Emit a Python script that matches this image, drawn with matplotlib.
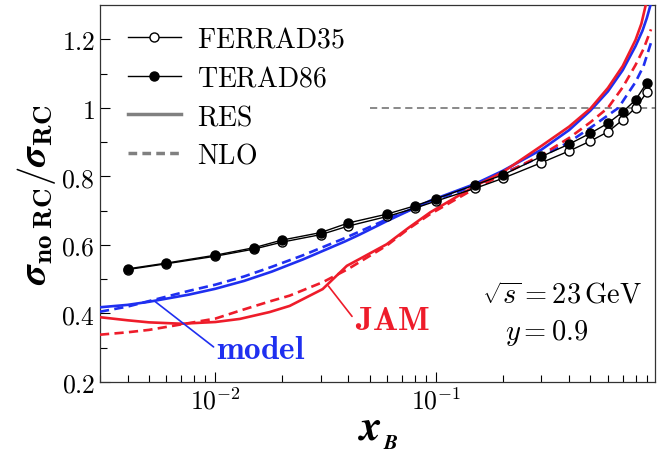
import numpy as np
import matplotlib
matplotlib.use("Agg")
import matplotlib.pyplot as plt
from matplotlib.ticker import FixedLocator, FixedFormatter, LogLocator, NullFormatter

plt.rcParams['mathtext.fontset'] = 'cm'
plt.rcParams['font.family'] = 'serif'
plt.rcParams['font.serif'] = ['DejaVu Serif']

# data points (TERAD86 filled, FERRAD35 open)
x_terad = [0.004, 0.006, 0.01, 0.015, 0.02, 0.03, 0.04, 0.06, 0.08, 0.1, 0.15,
           0.2, 0.3, 0.4, 0.5, 0.6, 0.7, 0.8, 0.9]
y_terad = [0.530, 0.547, 0.570, 0.592, 0.614, 0.636, 0.664, 0.690, 0.714, 0.735,
           0.775, 0.804, 0.858, 0.894, 0.926, 0.955, 0.988, 1.023, 1.073]
x_ferrad = x_terad
y_ferrad = [0.528, 0.545, 0.567, 0.588, 0.608, 0.630, 0.655, 0.683, 0.707, 0.728,
            0.765, 0.794, 0.840, 0.874, 0.903, 0.930, 0.965, 1.000, 1.045]

# model (blue) curves
x_model = [0.003, 0.004, 0.005, 0.0076, 0.01, 0.0135, 0.018, 0.025, 0.0386, 0.045,
           0.06, 0.094, 0.15, 0.2, 0.3, 0.4, 0.5, 0.6, 0.7, 0.8, 0.86, 0.9, 0.935]
y_model_res = [0.418, 0.425, 0.434, 0.455, 0.472, 0.495, 0.522, 0.558, 0.610, 0.630,
               0.670, 0.729, 0.778, 0.816, 0.878, 0.935, 0.992, 1.048, 1.110, 1.180,
               1.225, 1.262, 1.300]
x_model_nlo = [0.003, 0.004, 0.005, 0.0076, 0.01, 0.0135, 0.018, 0.025, 0.0386, 0.06,
               0.094, 0.15, 0.2, 0.3, 0.4, 0.5, 0.67, 0.736, 0.8, 0.87, 0.94]
y_model_nlo = [0.405, 0.420, 0.436, 0.466, 0.484, 0.508, 0.536, 0.570, 0.620, 0.675,
               0.727, 0.772, 0.808, 0.858, 0.900, 0.942, 1.000, 1.040, 1.075, 1.122,
               1.190]

# JAM (red) curves
x_jam = [0.003, 0.004, 0.005, 0.007, 0.01, 0.0129, 0.0176, 0.0217, 0.0306, 0.0394,
         0.045, 0.0597, 0.075, 0.094, 0.15, 0.2, 0.3, 0.4, 0.5, 0.6, 0.7, 0.8, 0.85,
         0.89]
y_jam_res = [0.389, 0.380, 0.374, 0.370, 0.375, 0.384, 0.404, 0.422, 0.471, 0.539,
             0.559, 0.602, 0.650, 0.695, 0.772, 0.812, 0.889, 0.945, 0.998, 1.058,
             1.122, 1.198, 1.245, 1.300]
x_jam_nlo = [0.003, 0.004, 0.005, 0.007, 0.01, 0.0129, 0.0176, 0.0217, 0.0306, 0.04,
             0.0597, 0.075, 0.094, 0.15, 0.2, 0.3, 0.4, 0.5, 0.6, 0.7, 0.8, 0.87,
             0.94]
y_jam_nlo = [0.338, 0.345, 0.352, 0.368, 0.385, 0.408, 0.435, 0.452, 0.491, 0.530,
             0.598, 0.647, 0.690, 0.765, 0.805, 0.862, 0.912, 0.958, 1.000, 1.060,
             1.125, 1.172, 1.229]

blue = '#1f2ff0'
red = '#ee1c2a'

fig = plt.figure(figsize=(6.6, 4.52), dpi=100)
ax = fig.add_axes([0.1515, 0.1527, 0.8409, 0.834])

ax.plot(x_model, y_model_res, color=blue, lw=1.9, zorder=3)
ax.plot(x_model_nlo, y_model_nlo, color=blue, lw=1.9, ls=(0, (3.5, 2)), zorder=3)
ax.plot(x_jam, y_jam_res, color=red, lw=1.9, zorder=3)
ax.plot(x_jam_nlo, y_jam_nlo, color=red, lw=1.9, ls=(0, (3.5, 2)), zorder=3)

ax.plot(x_ferrad, y_ferrad, color='k', lw=1, marker='o', ms=6.5, mfc='white',
        mec='k', mew=1, zorder=4)
ax.plot(x_terad, y_terad, color='k', lw=1, marker='o', ms=6.5, mfc='k',
        mec='k', zorder=5)

ax.hlines(1.0, 0.05, 0.98, colors='gray', lw=1.3, ls=(0, (4, 2.5)), zorder=1)

# legend handles
h1, = ax.plot([], [], color='k', lw=1, marker='o', ms=6.5, mfc='white', mec='k')
h2, = ax.plot([], [], color='k', lw=1, marker='o', ms=6.5, mfc='k', mec='k')
h3, = ax.plot([], [], color='gray', lw=2.5)
h4, = ax.plot([], [], color='gray', lw=2.5, ls=(0, (2.5, 1.5)))
ax.legend([h1, h2, h3, h4],
          [r'$\mathrm{FERRAD35}$', r'$\mathrm{TERAD86}$', r'$\mathrm{RES}$', r'$\mathrm{NLO}$'],
          loc='upper left', frameon=False, fontsize=20, handlelength=1.9,
          labelspacing=0.425, bbox_to_anchor=(0.02, 0.99), handletextpad=0.6,
          borderaxespad=0.2)

ax.annotate(r'$\mathbf{model}$', xy=(0.0053, 0.436), xytext=(0.0101, 0.296),
            color=blue, fontsize=24, va='center', ha='left',
            arrowprops=dict(arrowstyle='-', color=blue, lw=1.2,
                            shrinkA=0, shrinkB=0, relpos=(0, 0.5)))
ax.annotate(r'$\mathbf{JAM}$', xy=(0.0325, 0.48), xytext=(0.0428, 0.381),
            color=red, fontsize=24, va='center', ha='left',
            arrowprops=dict(arrowstyle='-', color=red, lw=1.2,
                            shrinkA=0, shrinkB=0, relpos=(0, 0.5)))

ax.text(0.832, 0.231, r'$\sqrt{s}=23\,\mathrm{GeV}$', transform=ax.transAxes,
        fontsize=20.5, ha='center', va='center')
ax.text(0.804, 0.133, r'$y=0.9$', transform=ax.transAxes,
        fontsize=20.5, ha='center', va='center')

ax.set_xscale('log')
ax.set_xlim(0.003, 0.98)
ax.set_ylim(0.2, 1.3)

ax.xaxis.set_major_locator(FixedLocator([0.01, 0.1]))
ax.xaxis.set_major_formatter(FixedFormatter([r'$10^{-2}$', r'$10^{-1}$']))
ax.xaxis.set_minor_locator(LogLocator(base=10, subs=np.arange(2, 10)))
ax.xaxis.set_minor_formatter(NullFormatter())

yt = [0.2, 0.4, 0.6, 0.8, 1.0, 1.2]
ax.yaxis.set_major_locator(FixedLocator(yt))
ax.yaxis.set_major_formatter(FixedFormatter([r'$0.2$', r'$0.4$', r'$0.6$', r'$0.8$', r'$1$', r'$1.2$']))
ax.yaxis.set_minor_locator(FixedLocator([0.3, 0.5, 0.7, 0.9, 1.1]))

ax.tick_params(which='both', direction='in', top=False, right=False, labelsize=18.5)
ax.tick_params(which='major', length=7, width=0.8)
ax.tick_params(which='minor', length=5, width=0.8)
for s in ax.spines.values():
    s.set_linewidth(0.9)
    s.set_color('#333333')

ax.set_ylabel(r'$\boldsymbol{\sigma}_{\mathbf{no\;RC}}/\boldsymbol{\sigma}_{\mathbf{RC}}$',
              fontsize=28, labelpad=2)

# x label: bold italic x with subscript B
fig.text(371 / 660, 12 / 452, 'x', family='STIXGeneral', style='italic',
         weight='bold', fontsize=31, ha='center', va='baseline')
fig.text(384 / 660, 3 / 452, 'B', family='STIXGeneral', style='italic',
         weight='bold', fontsize=15, ha='left', va='baseline')

fig.savefig('out.png', dpi=100)
